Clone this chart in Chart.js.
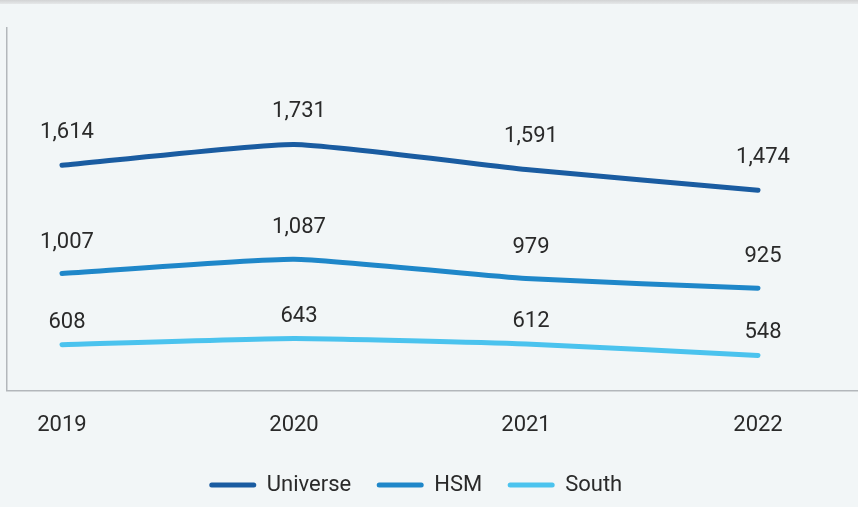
<!DOCTYPE html>
<html>
<head>
<meta charset="utf-8">
<script src="https://cdn.jsdelivr.net/npm/chart.js@4/dist/chart.umd.min.js"></script>
<style>
  html, body { margin: 0; padding: 0; background: #f2f6f7; }
  #wrap { position: relative; width: 858px; height: 507px; background: #f2f6f7; overflow: hidden; }
  #topbar { position: absolute; left: 0; top: 0; width: 858px; height: 4px; background: linear-gradient(#d2d3d4, #e6e8e9); }
  canvas { position: absolute; left: 0; top: 0; }
</style>
</head>
<body>
<div id="wrap">
  <canvas id="c" width="858" height="507"></canvas>
  <div id="topbar"></div>
</div>
<script>
const categories = ["2019", "2020", "2021", "2022"];
const universe = [1614, 1731, 1591, 1474];
const hsm = [1007, 1087, 979, 925];
const south = [608, 643, 612, 548];

const FONT = "Roboto, 'Noto Sans', sans-serif";
const TEXT = "#2a2a2a";

const toPoints = arr => arr.map((v, i) => ({ x: i, y: v }));

const valueLabels = {
  id: "valueLabels",
  afterDatasetsDraw(chart) {
    const ctx = chart.ctx;
    ctx.save();
    ctx.font = "22px " + FONT;
    ctx.fillStyle = TEXT;
    ctx.textAlign = "center";
    ctx.textBaseline = "alphabetic";
    chart.data.datasets.forEach((ds, di) => {
      const meta = chart.getDatasetMeta(di);
      meta.data.forEach((pt, i) => {
        const v = ds.data[i].y;
        ctx.fillText(v.toLocaleString("en-US"), pt.x + 5, pt.y - ds.labelGap);
      });
    });
    ctx.restore();
  }
};

const lineLegend = {
  id: "lineLegend",
  afterDraw(chart) {
    const ctx = chart.ctx;
    ctx.save();
    ctx.font = "22px " + FONT;
    const sample = 46, gap = 11, spacing = 26;
    const items = chart.data.datasets.map(ds => ({ ds, w: ctx.measureText(ds.label).width }));
    let total = 0;
    items.forEach(it => { total += sample + gap + it.w + spacing; });
    let x = (chart.width - total) / 2;
    const y = chart.height - 22;
    items.forEach(it => {
      ctx.strokeStyle = it.ds.borderColor;
      ctx.lineWidth = it.ds.borderWidth;
      ctx.lineCap = "round";
      ctx.beginPath();
      ctx.moveTo(x + 2, y);
      ctx.lineTo(x + sample - 2, y);
      ctx.stroke();
      ctx.fillStyle = TEXT;
      ctx.textAlign = "left";
      ctx.textBaseline = "middle";
      ctx.fillText(it.ds.label, x + sample + gap, y);
      x += sample + gap + it.w + spacing;
    });
    ctx.restore();
  }
};

const common = { borderWidth: 5, pointRadius: 0, pointHoverRadius: 0, tension: 0.15, borderCapStyle: "round", borderJoinStyle: "round", fill: false };

new Chart(document.getElementById("c"), {
  type: "line",
  data: {
    datasets: [
      Object.assign({ label: "Universe", data: toPoints(universe), borderColor: "#1a5ca1", labelGap: 27 }, common),
      Object.assign({ label: "HSM", data: toPoints(hsm), borderColor: "#1f87c9", labelGap: 26 }, common),
      Object.assign({ label: "South", data: toPoints(south), borderColor: "#4bc3ee", labelGap: 17 }, common)
    ]
  },
  options: {
    responsive: false,
    animation: false,
    devicePixelRatio: 1,
    layout: { padding: { left: 7, top: 28, right: 0, bottom: 46 } },
    plugins: { legend: { display: false }, tooltip: { enabled: false } },
    scales: {
      x: {
        type: "linear",
        min: -0.237,
        max: 3.431,
        grid: { display: false, drawTicks: false },
        border: { display: true, color: "#b3b7bb", width: 1.5 },
        afterBuildTicks: s => { s.ticks = categories.map((c, i) => ({ value: i })); },
        ticks: {
          padding: 22,
          autoSkip: false,
          maxRotation: 0,
          color: TEXT,
          font: { family: FONT, size: 22 },
          callback: v => categories[v]
        }
      },
      y: {
        min: 351,
        max: 2384,
        grid: { display: false, drawTicks: false },
        border: { display: true, color: "#b3b7bb", width: 1.5 },
        ticks: { display: false }
      }
    }
  },
  plugins: [valueLabels, lineLegend]
});
</script>
</body>
</html>
